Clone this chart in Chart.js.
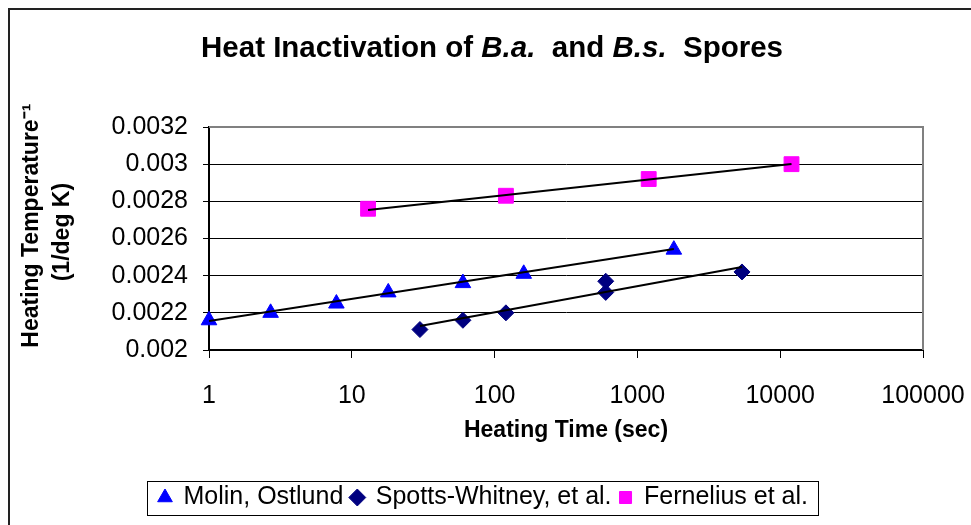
<!DOCTYPE html>
<html>
<head>
<meta charset="utf-8">
<title>Heat Inactivation of B.a. and B.s. Spores</title>
<script src="https://cdn.jsdelivr.net/npm/chart.js@4.4.1/dist/chart.umd.min.js"></script>
<style>
    html, body { margin: 0; padding: 0; background: #fff; overflow: hidden; }
    #wrap { position: relative; width: 971px; height: 525px; overflow: hidden; }
    #frame { position: absolute; left: 8px; top: 8px; width: 1200px; height: 800px; border: 2px solid #222; }
    #title {
        position: absolute; left: 0; top: 30px; width: 984px;
        text-align: center; line-height: 34px;
        font: bold 29.5px "Liberation Sans", Arial, sans-serif; color: #000;
    }
    #chart { position: absolute; left: 0; top: 0; }
</style>
</head>
<body>
<div id="wrap">
    <div id="frame"></div>
    <canvas id="chart" width="971" height="525"></canvas>
    <div id="title">Heat Inactivation of <i>B.a.</i>&nbsp; and <i>B.s.</i>&nbsp; Spores</div>
</div>
<script>
// Sarjojen nimet
const seriesNames = ["Molin, Ostlund", "Spotts-Whitney, et al.", "Fernelius et al."];

// Mittauspisteet (aika s, 1/lämpötila)
const molinTime = [1, 2.7, 7.8, 18, 60, 160, 1800];
const molinInvTemp = [0.00216, 0.0022, 0.00225, 0.00231, 0.00236, 0.00241, 0.00254];
const spottsTime = [30, 60, 120, 600, 600, 5400];
const spottsInvTemp = [0.00211, 0.00216, 0.0022, 0.00237, 0.00231, 0.00242];
const ferneliusTime = [13, 120, 1200, 12000];
const ferneliusInvTemp = [0.00276, 0.00283, 0.00292, 0.003];

// Trendiviivojen päätepisteet kuvasta luettuna
const molinTrendTime = [1, 1800];
const molinTrendInvTemp = [0.002156, 0.002543];
const spottsTrendTime = [30, 5400];
const spottsTrendInvTemp = [0.002129, 0.002447];
const ferneliusTrendTime = [13, 12000];
const ferneliusTrendInvTemp = [0.002753, 0.003001];

// Akselien jaot
const xTickValues = [1, 10, 100, 1000, 10000, 100000];
const xTickLabels = ["1", "10", "100", "1000", "10000", "100000"];
const yTickValues = [0.002, 0.0022, 0.0024, 0.0026, 0.0028, 0.003, 0.0032];
const yTickLabels = ["0.002", "0.0022", "0.0024", "0.0026", "0.0028", "0.003", "0.0032"];

const pts = (xs, ys) => xs.map((x, i) => ({ x: x, y: ys[i] }));

Chart.defaults.font.family = '"Liberation Sans", Arial, sans-serif';
Chart.defaults.color = "#000";

// Piirtoalueen harmaa kehys, selitteen siirto ja laatikko
const framePlugin = {
    id: "frame",
    afterLayout(chart) {
        // selite hieman oikealle kuten alkuperäisessä
        chart.legend.left += 22;
        chart.legend.right += 22;
    },
    beforeDatasetsDraw(chart) {
        const ctx = chart.ctx;
        const a = chart.chartArea;
        ctx.save();
        ctx.strokeStyle = "#808080";
        ctx.lineWidth = 2;
        ctx.beginPath();
        ctx.moveTo(a.left, a.top);
        ctx.lineTo(a.right, a.top);
        ctx.lineTo(a.right, a.bottom);
        ctx.stroke();
        ctx.restore();
    },
    afterDraw(chart) {
        const hb = chart.legend.legendHitBoxes;
        if (!hb || !hb.length) return;
        const ctx = chart.ctx;
        const x0 = Math.min(...hb.map(b => b.left)) - 12;
        const x1 = Math.max(...hb.map(b => b.left + b.width)) + 10;
        const cy = hb[0].top + hb[0].height / 2;
        ctx.save();
        ctx.strokeStyle = "#000";
        ctx.lineWidth = 1;
        ctx.strokeRect(Math.round(x0) + 0.5, Math.round(cy - 17) + 0.5, Math.round(x1 - x0), 34);
        ctx.restore();
    }
};

const trendStyle = {
    showLine: true,
    borderColor: "#000",
    borderWidth: 2,
    pointRadius: 0,
    order: 0
};

new Chart(document.getElementById("chart"), {
    type: "scatter",
    data: {
        datasets: [
            {
                label: seriesNames[0],
                data: pts(molinTime, molinInvTemp),
                pointStyle: "triangle",
                pointRadius: 9,
                backgroundColor: "#0000ff",
                borderColor: "#0000ff",
                pointBorderWidth: 1,
                clip: false,
                order: 1
            },
            {
                label: seriesNames[1],
                data: pts(spottsTime, spottsInvTemp),
                pointStyle: "rectRot",
                pointRadius: 8,
                backgroundColor: "#000080",
                borderColor: "#000080",
                pointBorderWidth: 1,
                clip: false,
                order: 1
            },
            {
                label: seriesNames[2],
                data: pts(ferneliusTime, ferneliusInvTemp),
                pointStyle: "rect",
                pointRadius: 10.5,
                backgroundColor: "#ff00ff",
                borderColor: "#ff00ff",
                pointBorderWidth: 1,
                clip: false,
                order: 1
            },
            Object.assign({ label: "trend1", data: pts(molinTrendTime, molinTrendInvTemp) }, trendStyle),
            Object.assign({ label: "trend2", data: pts(spottsTrendTime, spottsTrendInvTemp) }, trendStyle),
            Object.assign({ label: "trend3", data: pts(ferneliusTrendTime, ferneliusTrendInvTemp) }, trendStyle)
        ]
    },
    options: {
        responsive: false,
        animation: false,
        devicePixelRatio: 1,
        layout: { padding: { left: 0, right: 48, top: 127, bottom: 5 } },
        plugins: {
            title: { display: false },
            tooltip: { enabled: false },
            legend: {
                position: "bottom",
                labels: {
                    usePointStyle: true,
                    boxWidth: 12,
                    boxHeight: 12,
                    padding: 8,
                    color: "#000",
                    font: { size: 25 },
                    filter: item => item.datasetIndex < 3
                }
            }
        },
        scales: {
            x: {
                type: "logarithmic",
                min: 1,
                max: 100000,
                afterBuildTicks: s => { s.ticks = xTickValues.map(v => ({ value: v })); },
                afterFit: s => { s.height = 127; s.paddingLeft = 0; s.paddingRight = 0; },
                grid: { drawOnChartArea: false, tickLength: 8, tickColor: "#000" },
                border: { color: "#000", width: 2 },
                ticks: {
                    autoSkip: false,
                    maxRotation: 0,
                    padding: 23,
                    color: "#000",
                    font: { size: 25 },
                    callback: (v, i) => xTickLabels[i]
                },
                title: {
                    display: true,
                    text: "Heating Time (sec)",
                    color: "#000",
                    font: { size: 23, weight: "bold" },
                    padding: { top: 0, bottom: 33 }
                }
            },
            y: {
                min: 0.002,
                max: 0.0032,
                afterBuildTicks: s => { s.ticks = yTickValues.map(v => ({ value: v })); },
                afterFit: s => { s.width = 209; },
                grid: {
                    color: c => (c.tick && c.tick.value > 0.00319) ? "rgba(0,0,0,0)" : "#000",
                    tickLength: 6,
                    tickColor: "#000",
                    lineWidth: 1
                },
                border: { color: "#000", width: 2 },
                ticks: {
                    padding: 15,
                    color: "#000",
                    font: { size: 25 },
                    callback: (v, i) => yTickLabels[i]
                },
                title: {
                    display: true,
                    // alussa välilyönnit nostavat tekstiä ylemmäs
                    text: ["    Heating Temperature\u207B\u00B9", "  (1/deg K)"],
                    color: "#000",
                    font: { size: 23, weight: "bold", lineHeight: 1.35 },
                    padding: { top: 16, bottom: 0 }
                }
            }
        }
    },
    plugins: [framePlugin]
});
</script>
</body>
</html>
